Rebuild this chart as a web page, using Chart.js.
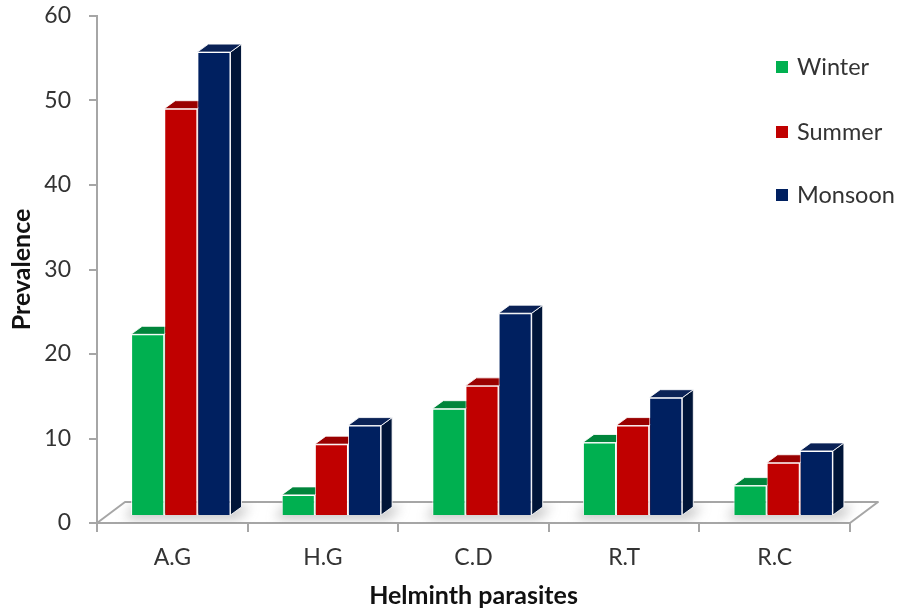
<!DOCTYPE html>
<html lang="en">
<head>
<meta charset="UTF-8">
<title>Helminth parasites prevalence</title>
<script src="https://cdn.jsdelivr.net/npm/chart.js"></script>
<style>
  html, body { margin: 0; padding: 0; background: #fff; }
  canvas { display: block; }
</style>
</head>
<body>
<canvas id="chart" width="902" height="611"></canvas>
<script>
// categories and seasonal prevalence values
const parasites = ['A.G', 'H.G', 'C.D', 'R.T', 'R.C'];
const seasons = ['Winter', 'Summer', 'Monsoon'];
const winter = [21.5, 2.5, 12.7, 8.7, 3.6];
const summer = [48.2, 8.5, 15.4, 10.7, 6.3];
const monsoon = [54.9, 10.7, 24.0, 14.0, 7.7];
const yTicks = [0, 10, 20, 30, 40, 50, 60];

// colours: front face, top face, side face
const fronts = ['#00B050', '#C00000', '#002060'];
const tops = ['#00853B', '#9A0000', '#0A2256'];
const sides = ['#006B30', '#7A0000', '#001538'];

// floor depth and where the bars sit inside it
const floorDX = 28, floorDY = -21;
const barShiftX = 8.5, barShiftY = -7;
const barDX = 11, barDY = -8;

const gray = '#A6A6A6';
const font = 'Lato, "Open Sans", sans-serif';

function poly(ctx, pts) {
    ctx.beginPath();
    ctx.moveTo(pts[0][0], pts[0][1]);
    for (let i = 1; i < pts.length; i++) ctx.lineTo(pts[i][0], pts[i][1]);
    ctx.closePath();
}

// floor, shadows and the top/side faces of each column
const depthPlugin = {
    id: 'depth',
    beforeDatasetsDraw(chart) {
        const ctx = chart.ctx;
        const a = chart.chartArea;
        ctx.save();

        // floor slab
        poly(ctx, [[a.left, a.bottom], [a.right, a.bottom],
                   [a.right + floorDX, a.bottom + floorDY], [a.left + floorDX, a.bottom + floorDY]]);
        ctx.fillStyle = '#fff';
        ctx.fill();
        ctx.strokeStyle = gray;
        ctx.lineWidth = 2;
        ctx.lineJoin = 'round';
        ctx.stroke();

        // soft shadow around the foot of each group
        const metas = chart.getSortedVisibleDatasetMetas();
        const first = metas.find(m => m.index === 0);
        const last = metas.find(m => m.index === seasons.length - 1);
        ctx.save();
        poly(ctx, [[a.left, a.bottom], [a.right, a.bottom],
                   [a.right + floorDX, a.bottom + floorDY], [a.left + floorDX, a.bottom + floorDY]]);
        ctx.clip();
        ctx.filter = 'blur(6px)';
        ctx.fillStyle = 'rgba(110,110,110,0.4)';
        first.data.forEach((bar, i) => {
            const p0 = bar.getProps(['x', 'width', 'base'], true);
            const p1 = last.data[i].getProps(['x', 'width'], true);
            const l = p0.x - p0.width / 2 + barShiftX;
            const r = p1.x + p1.width / 2 + barShiftX;
            const b = p0.base + barShiftY;
            poly(ctx, [[l - 6, b + 4], [r + 8, b + 4], [r + 20, b - 9], [l + 2, b - 9]]);
            ctx.fill();
        });
        ctx.restore();

        // top and side faces
        ctx.translate(barShiftX, barShiftY);
        ctx.lineWidth = 1;
        ctx.strokeStyle = 'rgba(255,255,255,0.85)';
        metas.forEach(meta => {
            const k = meta.index;
            meta.data.forEach(bar => {
                const p = bar.getProps(['x', 'y', 'base', 'width'], true);
                const L = p.x - p.width / 2, R = p.x + p.width / 2;
                const T = p.y, B = p.base;
                poly(ctx, [[R, T], [R + barDX, T + barDY], [R + barDX, B + barDY], [R, B]]);
                ctx.fillStyle = sides[k];
                ctx.fill();
                ctx.stroke();
                poly(ctx, [[L, T], [R, T], [R + barDX, T + barDY], [L + barDX, T + barDY]]);
                ctx.fillStyle = tops[k];
                ctx.fill();
                ctx.stroke();
            });
        });
        ctx.restore();

        // front faces are drawn by the library with the same shift
        ctx.save();
        ctx.translate(barShiftX, barShiftY);
    },
    afterDatasetsDraw(chart) {
        chart.ctx.restore();
    },
    afterDraw(chart) {
        // legend on the right
        const ctx = chart.ctx;
        ctx.save();
        ctx.font = '23.5px ' + font;
        ctx.textBaseline = 'middle';
        ctx.textAlign = 'left';
        const ys = [67, 132, 195];
        seasons.forEach((s, i) => {
            ctx.fillStyle = fronts[i];
            ctx.fillRect(776, ys[i] - 6, 12, 12);
            ctx.fillStyle = '#333';
            ctx.fillText(s, 797, ys[i]);
        });
        ctx.restore();
    }
};

new Chart(document.getElementById('chart'), {
    type: 'bar',
    data: {
        labels: parasites,
        datasets: [winter, summer, monsoon].map((vals, i) => ({
            label: seasons[i],
            data: vals,
            backgroundColor: fronts[i],
            borderColor: 'rgba(255,255,255,0.85)',
            borderWidth: 1,
            categoryPercentage: 0.66,
            barPercentage: 1.0,
            clip: false
        }))
    },
    options: {
        responsive: false,
        animation: false,
        devicePixelRatio: 1,
        layout: { padding: { top: 16, right: 52, left: 0, bottom: 0 } },
        plugins: {
            legend: { display: false },
            tooltip: { enabled: false }
        },
        scales: {
            x: {
                offset: true,
                grid: { offset: true, drawOnChartArea: false, drawTicks: true, tickLength: 9, color: gray, lineWidth: 2 },
                border: { display: true, color: gray, width: 2 },
                ticks: { color: '#333', font: { family: font, size: 23 }, padding: 12 },
                title: { display: true, text: 'Helminth parasites', color: '#111',
                         font: { family: font, size: 25, weight: 'bold' }, padding: { top: 0, bottom: 0 } },
                afterFit(scale) { scale.height = 88; }
            },
            y: {
                min: 0,
                max: 60,
                afterBuildTicks(scale) { scale.ticks = yTicks.map(v => ({ value: v })); },
                grid: { drawOnChartArea: false, drawTicks: true, tickLength: 8, color: gray, lineWidth: 2 },
                border: { display: true, color: gray, width: 2 },
                ticks: { color: '#333', font: { family: font, size: 23 }, padding: 18 },
                title: { display: true, text: 'Prevalence', color: '#111',
                         font: { family: font, size: 25, weight: 'bold' }, padding: { top: 7, bottom: 0 } },
                afterFit(scale) {
                    scale.width = 97;
                    scale.paddingTop = 0;
                    scale.paddingBottom = 0;
                }
            }
        }
    },
    plugins: [depthPlugin]
});
</script>
</body>
</html>
